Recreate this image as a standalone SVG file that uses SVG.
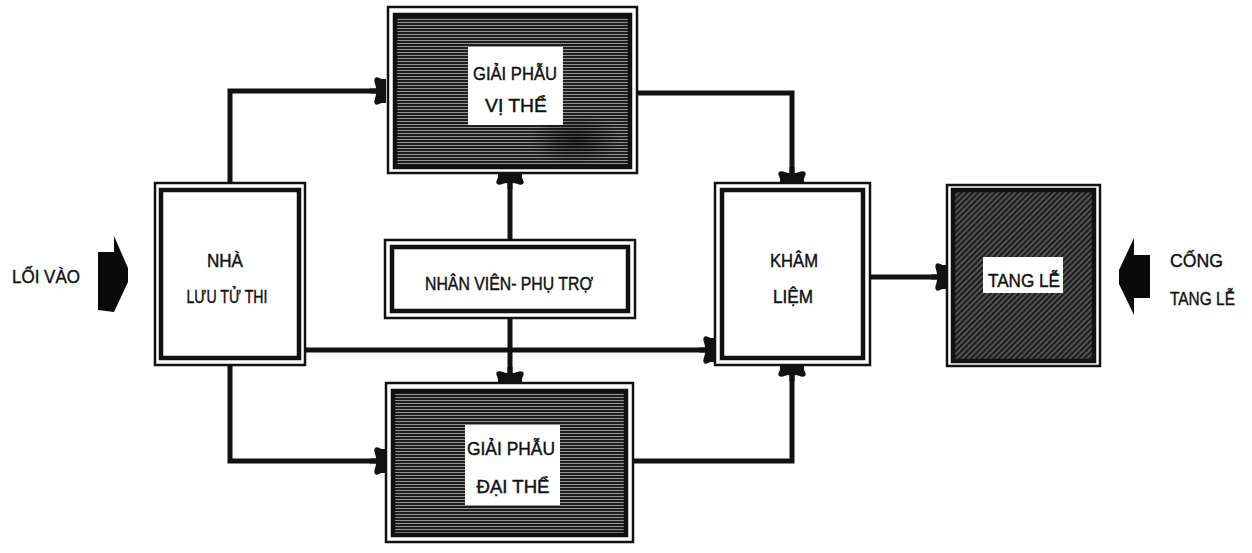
<svg xmlns="http://www.w3.org/2000/svg" width="1252" height="553" viewBox="0 0 1252 553">
<style>
.outer{fill:none;stroke:#111;stroke-width:2.5}
.inner{stroke:#111;stroke-width:4.5}
.plain{fill:#fff}
.lbl{font-family:"Liberation Sans",Arial,sans-serif;font-size:19px;fill:#111;stroke:#111;stroke-width:0.45;text-anchor:middle}
.side{font-family:"Liberation Sans",Arial,sans-serif;font-size:18px;fill:#111;stroke:#111;stroke-width:0.4}
.conn{fill:none;stroke:#111;stroke-width:5;stroke-linejoin:miter}
.big{fill:#0a0a0a}
</style>
<defs>
<pattern id="hz" patternUnits="userSpaceOnUse" width="8" height="3">
<rect width="8" height="3" fill="#1e1e1e"/>
<rect y="1" width="8" height="0.9" fill="#a0a0a0"/>
</pattern>
<pattern id="dg" patternUnits="userSpaceOnUse" width="4" height="4" patternTransform="rotate(-45)">
<rect width="4" height="4" fill="#1c1c1c"/>
<rect y="1.5" width="4" height="1" fill="#8a8a8a"/>
</pattern>
<radialGradient id="blot" cx="0.5" cy="0.5" r="0.5">
<stop offset="0" stop-color="#000" stop-opacity="0.6"/>
<stop offset="1" stop-color="#000" stop-opacity="0"/>
</radialGradient>
<marker id="ah" viewBox="0 0 16 30" markerUnits="userSpaceOnUse" markerWidth="16" markerHeight="30" refX="16" refY="15" orient="auto">
<path d="M0,12.5 L6,12.5 C6,8 3,5 5,2 C7,0 10,3 12,3 L16,3 L16,27 L12,27 C10,27 7,30 5,28 C3,25 6,22 6,17.5 L0,17.5 Z" fill="#111"/>
</marker>
</defs>
<rect width="1252" height="553" fill="#fff"/>

<g id="connectors">
<path class="conn" d="M230,183 V91 H386" marker-end="url(#ah)"/>
<path class="conn" d="M637,93 H792 V183" marker-end="url(#ah)"/>
<path class="conn" d="M230,365 V461 H386" marker-end="url(#ah)"/>
<path class="conn" d="M633,461 H792 V365" marker-end="url(#ah)"/>
<path class="conn" d="M305,350 H715" marker-end="url(#ah)"/>
<path class="conn" d="M510,240 V173" marker-end="url(#ah)"/>
<path class="conn" d="M510,318 V383" marker-end="url(#ah)"/>
<path class="conn" d="M870,277 H947" marker-end="url(#ah)"/>
</g>

<g id="loi-vao">
<polygon class="big" points="98,252 114,252 114,236 128,268 128,282 114,312 98,310"/>
<text class="side" x="12" y="283" textLength="68" lengthAdjust="spacingAndGlyphs">LỐI VÀO</text>
</g>

<g id="cong-tang-le">
<polygon class="big" points="1150,255 1134,255 1134,238 1119,270 1119,284 1134,315 1134,298 1150,298"/>
<text class="side" x="1170" y="267" textLength="53" lengthAdjust="spacingAndGlyphs">CỐNG</text>
<text class="side" x="1170" y="305" textLength="65" lengthAdjust="spacingAndGlyphs">TANG LỄ</text>
</g>

<g id="nha-luu-tu-thi">
<rect class="outer" x="155" y="183" width="150" height="182"/>
<rect class="inner plain" x="161" y="190" width="138" height="168"/>
<text class="lbl" x="225" y="267" textLength="36" lengthAdjust="spacingAndGlyphs">NHÀ</text>
<text class="lbl" x="227" y="303" textLength="81" lengthAdjust="spacingAndGlyphs">LƯU TỬ THI</text>
</g>

<g id="giai-phau-vi-the">
<rect class="outer" x="388" y="7" width="249" height="166"/>
<rect class="inner" x="395" y="15" width="235" height="152" fill="url(#hz)"/>
<ellipse cx="575" cy="140" rx="45" ry="26" fill="url(#blot)"/>
<rect x="468" y="47" width="95" height="78" fill="#fff"/>
<text class="lbl" x="515" y="80" textLength="84" lengthAdjust="spacingAndGlyphs">GIẢI PHẪU</text>
<text class="lbl" x="516" y="112" textLength="62" lengthAdjust="spacingAndGlyphs">VỊ THỂ</text>
</g>

<g id="nhan-vien-phu-tro">
<rect class="outer" x="385" y="240" width="250" height="78"/>
<rect class="inner plain" x="392" y="247" width="236" height="64"/>
<text class="lbl" x="509" y="290" textLength="168" lengthAdjust="spacingAndGlyphs">NHÂN VIÊN- PHỤ TRỢ</text>
</g>

<g id="giai-phau-dai-the">
<rect class="outer" x="386" y="383" width="247" height="159"/>
<rect class="inner" x="393" y="391" width="233" height="144" fill="url(#hz)"/>
<rect x="465" y="425" width="95" height="80" fill="#fff"/>
<text class="lbl" x="511" y="455" textLength="88" lengthAdjust="spacingAndGlyphs">GIẢI PHẪU</text>
<text class="lbl" x="513" y="493" textLength="73" lengthAdjust="spacingAndGlyphs">ĐẠI THỂ</text>
</g>

<g id="kham-liem">
<rect class="outer" x="715" y="183" width="155" height="182"/>
<rect class="inner plain" x="722" y="190" width="141" height="168"/>
<text class="lbl" x="794" y="267" textLength="48" lengthAdjust="spacingAndGlyphs">KHÂM</text>
<text class="lbl" x="793" y="303" textLength="40" lengthAdjust="spacingAndGlyphs">LIỆM</text>
</g>

<g id="tang-le">
<rect class="outer" x="947" y="185" width="153" height="181"/>
<rect class="inner" x="953" y="190" width="141" height="171" fill="url(#dg)"/>
<rect x="983" y="257" width="80" height="36" fill="#fff"/>
<text class="lbl" x="1024" y="287" textLength="72" lengthAdjust="spacingAndGlyphs">TANG LỄ</text>
</g>
</svg>
